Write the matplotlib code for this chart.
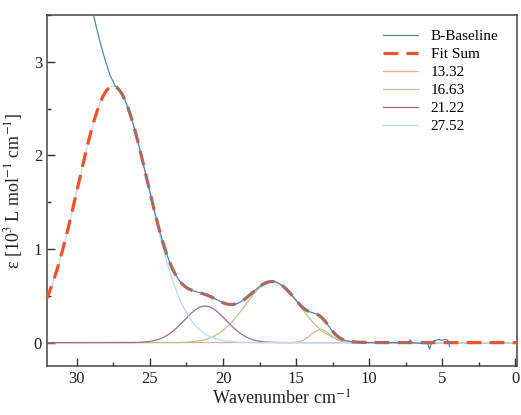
import numpy as np
import matplotlib
matplotlib.use("Agg")
import matplotlib.pyplot as plt
from matplotlib.ticker import MultipleLocator

plt.rcParams['font.family'] = ['Liberation Serif', 'DejaVu Serif']
plt.rcParams['mathtext.fontset'] = 'stix'

# Gaussian components (centre in 10^3 cm-1, height, width)
peak_labels = ["13.32", "16.63", "21.22", "27.52"]
peak_centres = [13.32, 16.63, 21.22, 27.52]
peak_heights = [0.14, 0.65, 0.39, 2.74]
peak_widths = [0.65, 1.88, 1.45, 2.42]
peak_colors = ["#f4a898", "#a9cc88", "#a8698a", "#b9dcf3"]

# measured spectrum where it leaves the fit: steep rise at high energy
rise_x = [28.95, 28.88, 28.65, 28.36, 28.03, 27.74, 27.40]
rise_y = [3.56, 3.51, 3.36, 3.18, 3.00, 2.86, 2.75]
# noisy tail at low energy
tail_x = [8.0, 7.5, 7.3, 7.19, 7.1, 6.8, 6.3, 6.0, 5.87, 5.75, 5.6, 5.4,
          5.25, 5.1, 4.95, 4.75, 4.6, 4.5]
tail_y = [0.0, 0.0, 0.005, 0.03, 0.0, -0.005, -0.01, -0.01, -0.07, -0.01,
          0.02, 0.025, 0.035, 0.025, 0.03, 0.035, 0.02, -0.04]


def gauss(x, c, h, w):
    return h * np.exp(-(x - c) ** 2 / (2 * w ** 2))


def fit_sum(x):
    return sum(gauss(x, c, h, w) for c, h, w in zip(peak_centres, peak_heights, peak_widths))


x = np.linspace(32.1, -0.1, 800)
mid_x = np.linspace(27.17, 8.0, 300)
meas_x = np.concatenate([rise_x, mid_x, tail_x])
meas_y = np.concatenate([rise_y, fit_sum(mid_x), tail_y])

fig = plt.figure(figsize=(5.21, 4.15), dpi=100)
ax = fig.add_axes([0.090, 0.118, 0.902, 0.846])

ax.plot(x, fit_sum(x), color="#ef5128", lw=2.3, dashes=(4.6, 2.6), label="Fit Sum", zorder=3)
for lab, c, h, w, col in zip(peak_labels, peak_centres, peak_heights, peak_widths, peak_colors):
    ax.plot(x, gauss(x, c, h, w), color=col, lw=0.9, label=lab, zorder=2)
ax.plot(meas_x, meas_y, color="#4f86b8", lw=0.9, label="B-Baseline", zorder=4)

ax.set_xlim(32.05, -0.1)
ax.set_ylim(-0.25, 3.5)
ax.xaxis.set_major_locator(MultipleLocator(5))
ax.xaxis.set_minor_locator(MultipleLocator(2.5))
ax.yaxis.set_major_locator(MultipleLocator(1))
ax.yaxis.set_minor_locator(MultipleLocator(0.5))
ax.tick_params(which='both', direction='in', colors='#333333', labelcolor='#222222', labelsize=12)
ax.tick_params(which='major', length=6, width=1)
ax.tick_params(which='minor', length=3, width=1)
for s in ax.spines.values():
    s.set_color('#444444')
    s.set_linewidth(1.1)

ax.set_xlabel("Wavenumber cm$^{-1}$", fontsize=13, color='#222222', labelpad=2)
ax.set_ylabel("ε [10$^{3}$ L mol$^{-1}$ cm$^{-1}$]", fontsize=13, color='#222222', labelpad=6)

h, l = ax.get_legend_handles_labels()
order = [5, 0, 1, 2, 3, 4]
ax.legend([h[i] for i in order], [l[i] for i in order], loc='upper right', frameon=False,
          fontsize=11, handlelength=2.3, handletextpad=0.8, labelspacing=0.28,
          borderaxespad=0.5, bbox_to_anchor=(0.99, 0.997))

fig.savefig("out.png", dpi=100)
